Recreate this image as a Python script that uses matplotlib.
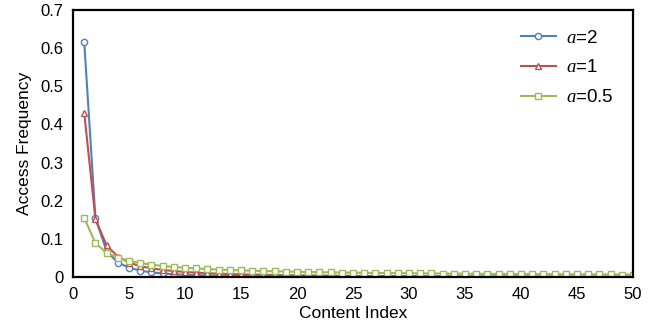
import matplotlib
matplotlib.use("Agg")
import matplotlib.pyplot as plt

plt.rcParams['font.family'] = ['Liberation Sans', 'DejaVu Sans']
plt.rcParams['mathtext.fontset'] = 'custom'
plt.rcParams['mathtext.it'] = 'Liberation Serif:italic'
plt.rcParams['mathtext.rm'] = 'Liberation Sans'

content_index = list(range(1, 51))

freq_a2 = [0.615, 0.154, 0.068, 0.038, 0.025, 0.017, 0.0126, 0.0096, 0.0076, 0.0062,
           0.0051, 0.0043, 0.0036, 0.0031, 0.0027, 0.0024, 0.0021, 0.0019, 0.0017, 0.0015,
           0.0014, 0.0013, 0.0012, 0.0011, 0.0010, 0.0009, 0.0008, 0.0008, 0.0007, 0.0007,
           0.0006, 0.0006, 0.0006, 0.0005, 0.0005, 0.0005, 0.0004, 0.0004, 0.0004, 0.0004,
           0.0004, 0.0003, 0.0003, 0.0003, 0.0003, 0.0003, 0.0003, 0.0003, 0.0003, 0.0002]

freq_a1 = [0.43, 0.152, 0.083, 0.054, 0.038, 0.029, 0.023, 0.019, 0.016, 0.0136,
           0.0118, 0.0103, 0.0092, 0.0082, 0.0074, 0.0067, 0.0061, 0.0056, 0.0052, 0.0048,
           0.0045, 0.0042, 0.0039, 0.0037, 0.0034, 0.0032, 0.0031, 0.0029, 0.0028, 0.0026,
           0.0025, 0.0024, 0.0023, 0.0022, 0.0021, 0.0020, 0.0019, 0.0018, 0.0018, 0.0017,
           0.0016, 0.0016, 0.0015, 0.0015, 0.0014, 0.0014, 0.0013, 0.0013, 0.0013, 0.0012]

freq_a05 = [0.155, 0.089, 0.064, 0.051, 0.043, 0.037, 0.033, 0.029, 0.027, 0.0246,
            0.0228, 0.0212, 0.0199, 0.0188, 0.0178, 0.0169, 0.0161, 0.0154, 0.0147, 0.0141,
            0.0136, 0.0131, 0.0126, 0.0122, 0.0118, 0.0114, 0.0111, 0.0108, 0.0105, 0.0102,
            0.0099, 0.0097, 0.0094, 0.0092, 0.0090, 0.0088, 0.0086, 0.0084, 0.0083, 0.0081,
            0.0079, 0.0078, 0.0077, 0.0075, 0.0074, 0.0073, 0.0071, 0.0070, 0.0069, 0.0068]

labels = [r'$a$=2', r'$a$=1', r'$a$=0.5']
x_ticks = list(range(0, 51, 5))
y_ticks = [0, 0.1, 0.2, 0.3, 0.4, 0.5, 0.6, 0.7]
y_tick_labels = ['0', '0.1', '0.2', '0.3', '0.4', '0.5', '0.6', '0.7']

fig = plt.figure(figsize=(6.58, 3.28), dpi=100)
ax = fig.add_axes([0.111, 0.155, 0.851, 0.815])

ax.plot(content_index, freq_a2, color='#4F81BD', marker='o', markersize=4.5,
        markerfacecolor='white', markeredgewidth=1, linewidth=1.5, label=labels[0])
ax.plot(content_index, freq_a1, color='#C0504D', marker='^', markersize=4.5,
        markerfacecolor='white', markeredgewidth=1, linewidth=1.5, label=labels[1])
ax.plot(content_index, freq_a05, color='#9BBB59', marker='s', markersize=5,
        markerfacecolor='white', markeredgewidth=1, linewidth=1.5, label=labels[2])

ax.set_xlim(0, 50)
ax.set_ylim(0, 0.7)
ax.set_xticks(x_ticks)
ax.set_yticks(y_ticks)
ax.set_yticklabels(y_tick_labels)
ax.tick_params(length=0, labelsize=12, pad=7)
ax.set_xlabel('Content Index', fontsize=12.5, labelpad=3)
ax.set_ylabel('Access Frequency', fontsize=12.5, labelpad=6)
for s in ax.spines.values():
    s.set_linewidth(1.6)

leg = ax.legend(loc='upper right', frameon=False, fontsize=13.5,
                bbox_to_anchor=(0.995, 0.99), handlelength=1.9, handletextpad=0.5,
                labelspacing=0.68)

fig.savefig('out.png', dpi=100)
